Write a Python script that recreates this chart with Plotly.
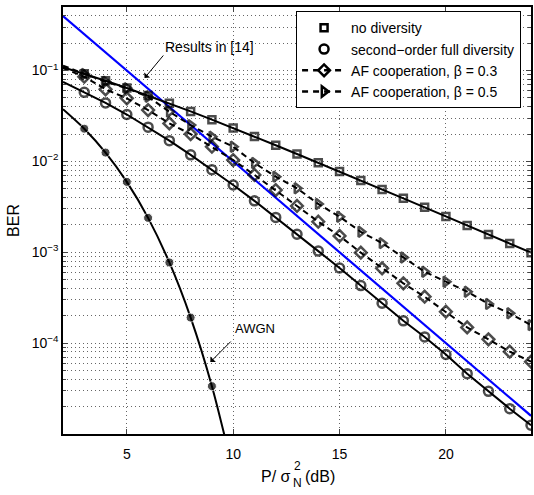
import plotly.graph_objects as go

snr = list(range(2, 25))
no_div = [0.1085, 0.0919, 0.0771, 0.0642, 0.0530, 0.0435, 0.0355, 0.0288, 0.0233, 0.01875,
          0.01505, 0.01207, 0.00967, 0.00772, 0.00617, 0.00492, 0.00392, 0.00312, 0.00248,
          0.00197, 0.00157, 0.00125, 0.00099]
full_div = [0.0748, 0.0575, 0.0440, 0.0328, 0.0238, 0.0169, 0.0118, 0.0081, 0.0055, 0.00368,
            0.00242, 0.00158, 0.00103, 0.000672, 0.000430, 0.000275, 0.000176, 0.000117,
            7.5e-5, 4.6e-5, 2.95e-5, 1.9e-5, 1.25e-5]
af_03 = [0.106, 0.0855, 0.0621, 0.0494, 0.0367, 0.0262, 0.0200, 0.0145, 0.01035, 0.0071,
         0.00484, 0.00323, 0.00217, 0.00151, 0.00099, 0.000665, 0.000455, 0.000324,
         0.000222, 0.000149, 0.000110, 8.05e-5, 6.25e-5]
af_05 = [0.113, 0.0916, 0.0753, 0.0637, 0.0515, 0.0352, 0.0251, 0.0187, 0.0145, 0.0096,
         0.00679, 0.00506, 0.0034, 0.00246, 0.00168, 0.00126, 0.000875, 0.000611,
         0.000474, 0.000368, 0.00027, 0.000213, 0.000158]
awgn_snr = [2, 3, 4, 5, 6, 7, 8, 9, 10]
awgn = [0.0375, 0.0229, 0.0125, 0.00595, 0.00239, 0.000772, 0.000191, 3.36e-5, 3.87e-6]
ref14_snr = [2, 24]
ref14 = [0.398, 1.585e-5]

FONT = "Liberation Sans, Arial, Helvetica, sans-serif"
GRID = "#666666"
GDASH = "1px,3px"
fig = go.Figure()

# blue reference line
fig.add_trace(go.Scatter(x=ref14_snr, y=ref14, mode="lines",
                         line=dict(color="#0000ff", width=2.2), showlegend=False))

series = [
    ("no diversity", no_div, "square-open", "solid", 7),
    ("second\u2212order full diversity", full_div, "circle-open", "solid", 9),
    ("AF cooperation, \u03b2 = 0.3", af_03, "diamond-open", "6px,4px", 9),
    ("AF cooperation, \u03b2 = 0.5", af_05, "triangle-right-open", "6px,4px", 9),
]
for name, vals, sym, dash, sz in series:
    sizes = [0] + [sz] * (len(snr) - 1)
    fig.add_trace(go.Scatter(x=snr, y=vals, mode="lines+markers",
                             line=dict(color="black", width=2, dash=dash),
                             marker=dict(symbol=sym, size=sizes, color="black",
                                         line=dict(color="black", width=2.5)),
                             showlegend=False))

# AWGN
awgn_sizes = [0] + [9] * (len(awgn_snr) - 2) + [0]
fig.add_trace(go.Scatter(x=awgn_snr, y=awgn, mode="lines+markers",
                         line=dict(color="black", width=2, shape="spline", smoothing=0.8),
                         marker=dict(symbol="circle", size=awgn_sizes, color="black"),
                         showlegend=False))

# legend dummies
for i, (name, vals, sym, dash, sz) in enumerate(series):
    mode = "markers" if dash == "solid" else "lines+markers"
    fig.add_trace(go.Scatter(x=[None], y=[None], mode=mode, name=name,
                             legendgroup=f"g{i}",
                             line=dict(color="black", width=2.5, dash="6px,5px"),
                             marker=dict(symbol=sym, size=sz, color="black",
                                         line=dict(color="black", width=2.5))))

# annotations
fig.add_annotation(x=5.838, y=-1.082, ax=6.774, ay=-0.818, xref="x", yref="y",
                   axref="x", ayref="y", text="", showarrow=True, arrowhead=1,
                   arrowsize=1.3, arrowwidth=1, arrowcolor="black")
fig.add_annotation(x=8.881, y=-0.741, xref="x", yref="y", text="Results in [14]",
                   showarrow=False, font=dict(family=FONT, size=14, color="black"))
fig.add_annotation(x=8.927, y=-4.208, ax=9.957, ay=-3.966, xref="x", yref="y",
                   axref="x", ayref="y", text="", showarrow=True, arrowhead=1,
                   arrowsize=1.3, arrowwidth=1, arrowcolor="black")
fig.add_annotation(x=10.0, y=-3.834, xref="x", yref="y", text="AWGN", xanchor="left",
                   showarrow=False, font=dict(family=FONT, size=13, color="black"))


def px_x(px):
    return (px - 63) / 470.0


def px_y(py):
    return (434 - py) / 427.0


# x-axis label built from pieces so the 2 sits above the N
fig.add_annotation(x=px_x(294), y=px_y(477), xref="paper", yref="paper", text="P/ \u03c3",
                   xanchor="right", yanchor="middle", showarrow=False,
                   font=dict(family=FONT, size=16, color="black"))
fig.add_annotation(x=px_x(298), y=px_y(466), xref="paper", yref="paper", text="2",
                   xanchor="center", yanchor="middle", showarrow=False,
                   font=dict(family=FONT, size=12, color="black"))
fig.add_annotation(x=px_x(298), y=px_y(483), xref="paper", yref="paper", text="N",
                   xanchor="center", yanchor="middle", showarrow=False,
                   font=dict(family=FONT, size=12, color="black"))
fig.add_annotation(x=px_x(304), y=px_y(477), xref="paper", yref="paper", text="(dB)",
                   xanchor="left", yanchor="middle", showarrow=False,
                   font=dict(family=FONT, size=16, color="black"))

ytick_vals = [1e-4, 1e-3, 1e-2, 1e-1]
ytick_text = ["10<sup>\u22124</sup>", "10<sup>\u22123</sup>", "10<sup>\u22122</sup>", "10<sup>\u22121</sup>"]
minor_vals = [m * 10 ** e for e in range(-5, 0) for m in range(2, 10) if m * 10 ** e <= 0.5]

fig.update_layout(
    width=534, height=495,
    margin=dict(l=63, r=1, t=7, b=61),
    plot_bgcolor="white", paper_bgcolor="white",
    font=dict(family=FONT, size=13, color="black"),
    showlegend=True,
    legend=dict(x=0.498, y=0.99, xanchor="left", yanchor="top",
                bgcolor="white", bordercolor="black", borderwidth=1,
                font=dict(family=FONT, size=14, color="black"),
                tracegroupgap=0, traceorder="grouped", itemwidth=44),
    xaxis=dict(range=[2, 24], tickvals=[5, 10, 15, 20], ticks="inside", ticklen=5,
               showline=True, linecolor="black", linewidth=1.5, mirror="ticks",
               showgrid=True, gridcolor=GRID, griddash=GDASH, gridwidth=1,
               zeroline=False, tickfont=dict(size=14), ticklabelstandoff=6),
    yaxis=dict(type="log", range=[-5, -0.30103], tickvals=ytick_vals, ticktext=ytick_text,
               ticks="inside", ticklen=5,
               showline=True, linecolor="black", linewidth=1.5, mirror="ticks",
               showgrid=True, gridcolor=GRID, griddash=GDASH, gridwidth=1,
               zeroline=False, tickfont=dict(size=14),
               minor=dict(tickmode="array", tickvals=minor_vals, ticks="inside", ticklen=3,
                          showgrid=True, gridcolor=GRID, griddash=GDASH, gridwidth=1),
               title=dict(text="BER", font=dict(size=16), standoff=8)),
)

fig.write_html("out.html")
